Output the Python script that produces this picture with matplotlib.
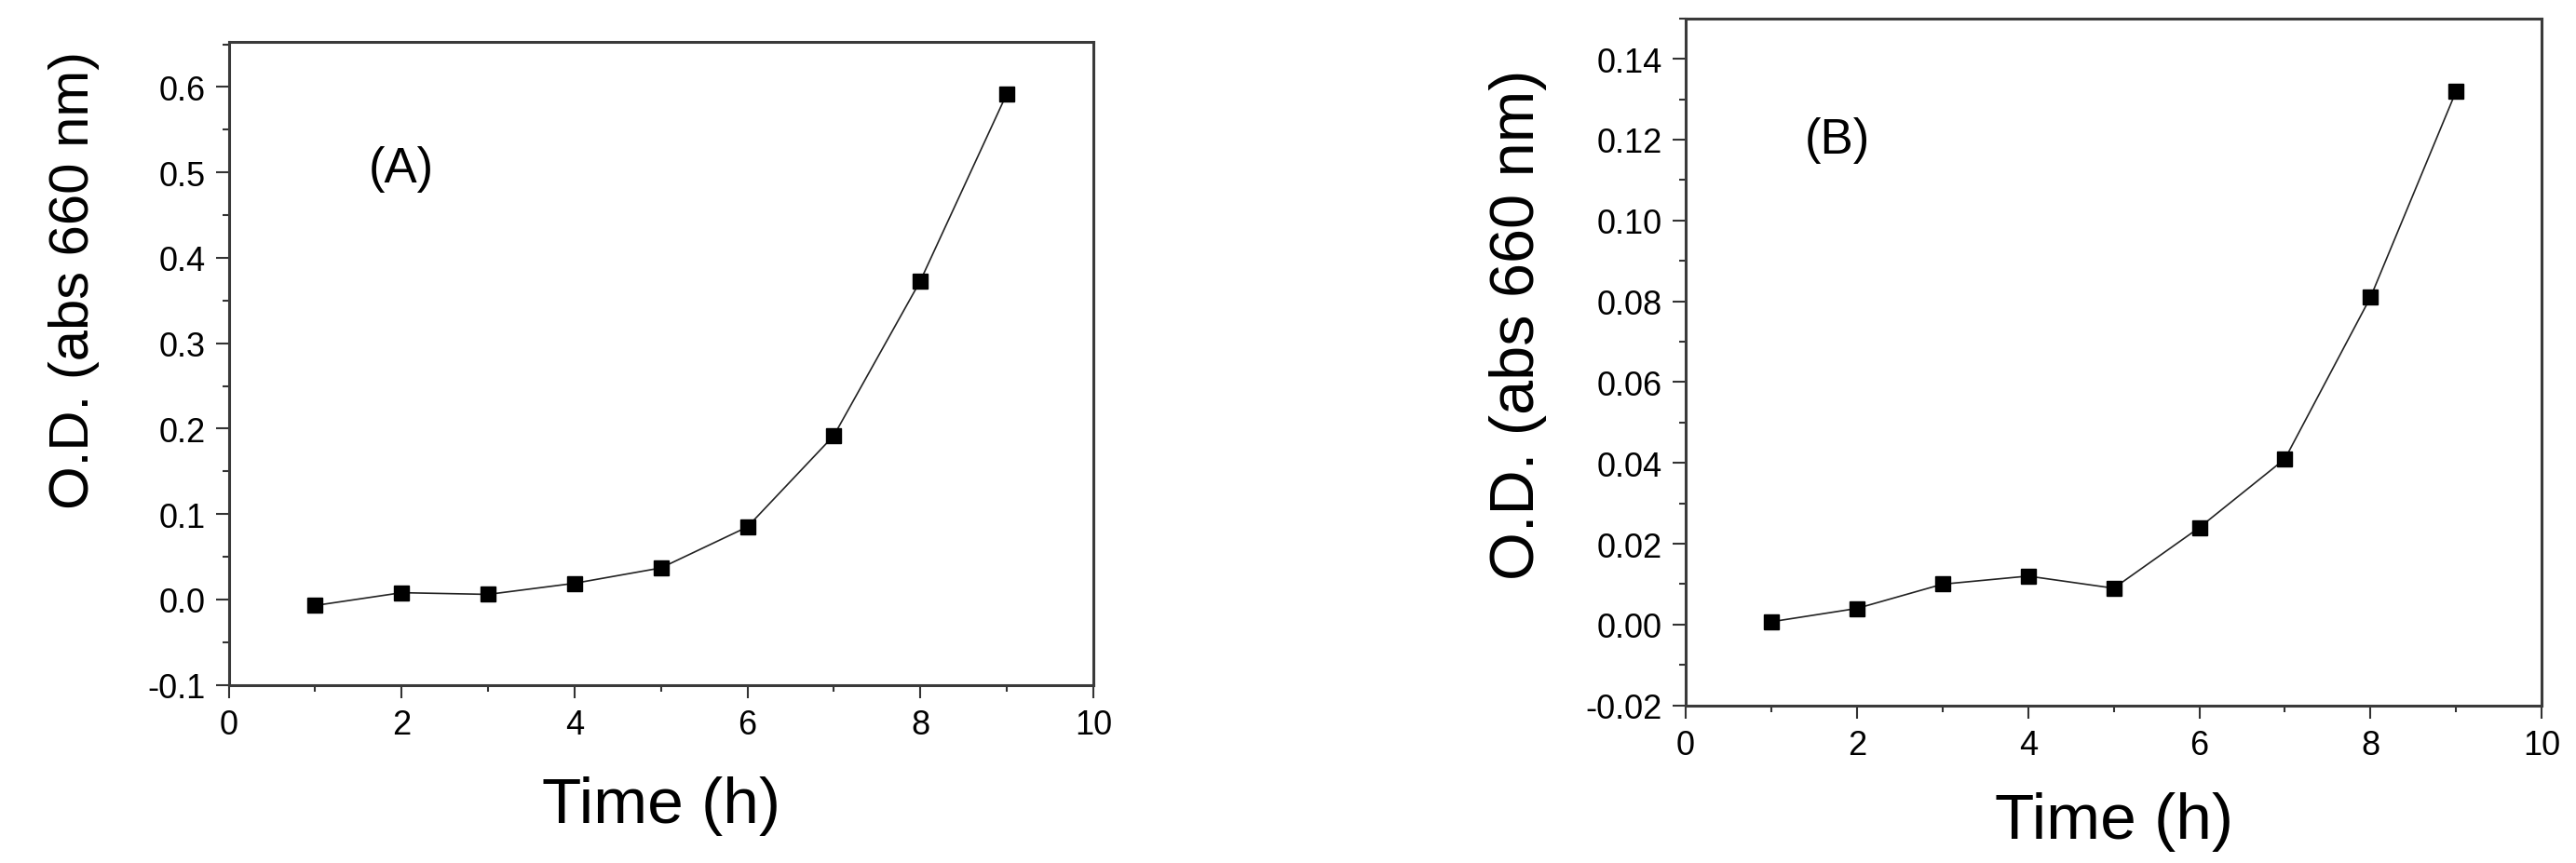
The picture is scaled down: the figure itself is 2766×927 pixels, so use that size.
import matplotlib
matplotlib.use("Agg")
import matplotlib.pyplot as plt
from matplotlib.ticker import MultipleLocator

plt.rcParams['font.family'] = ['Liberation Sans', 'DejaVu Sans']

hours = [1, 2, 3, 4, 5, 6, 7, 8, 9]
od_a = [-0.007, 0.008, 0.006, 0.019, 0.037, 0.085, 0.192, 0.373, 0.592]
od_b = [0.0007, 0.004, 0.010, 0.012, 0.009, 0.024, 0.041, 0.081, 0.132]

fig = plt.figure(figsize=(27.66, 9.28), dpi=100)
ax_a = fig.add_axes([0.0888, 0.2061, 0.3356, 0.7446])
ax_b = fig.add_axes([0.6544, 0.1824, 0.3323, 0.7953])

# ax, data, ylim, major, minor, format, tag, tag pos, ylabel size, ylabel y, ylabel pad, xlabel pad
panels = [
    (ax_a, od_a, (-0.1, 0.653), 0.1, 0.05, '%.1f', '(A)', (2.0, 0.505), 43, 0.63, 37, 27),
    (ax_b, od_b, (-0.02, 0.150), 0.02, 0.01, '%.2f', '(B)', (1.77, 0.12), 48, 0.555, 30, 23),
]

for ax, vals, ylim, major, minor, fmt, tag, tagpos, ysize, ypos, ypad, xpad in panels:
    ax.plot(hours, vals, color='#222222', lw=1.2, marker='s', ms=12,
            mfc='black', mec='black')
    ax.set_xlim(0, 10)
    ax.set_ylim(*ylim)
    ax.xaxis.set_major_locator(MultipleLocator(2))
    ax.xaxis.set_minor_locator(MultipleLocator(1))
    ax.yaxis.set_major_locator(MultipleLocator(major))
    ax.yaxis.set_minor_locator(MultipleLocator(minor))
    ax.yaxis.set_major_formatter(plt.FormatStrFormatter(fmt))
    ax.tick_params(which='both', direction='out', top=False, right=False,
                   width=1.5, color='#333333')
    ax.tick_params(which='major', length=10, labelsize=26, pad=8)
    ax.tick_params(which='minor', length=5)
    for s in ax.spines.values():
        s.set_linewidth(2.2)
        s.set_color('#3a3a3a')
    ax.set_xlabel('Time (h)', fontsize=50, labelpad=xpad)
    ax.set_ylabel('O.D. (abs 660 nm)', fontsize=ysize, labelpad=ypad, y=ypos)
    ax.text(tagpos[0], tagpos[1], tag, fontsize=38, ha='center', va='center')

fig.savefig('out.png', dpi=100)
